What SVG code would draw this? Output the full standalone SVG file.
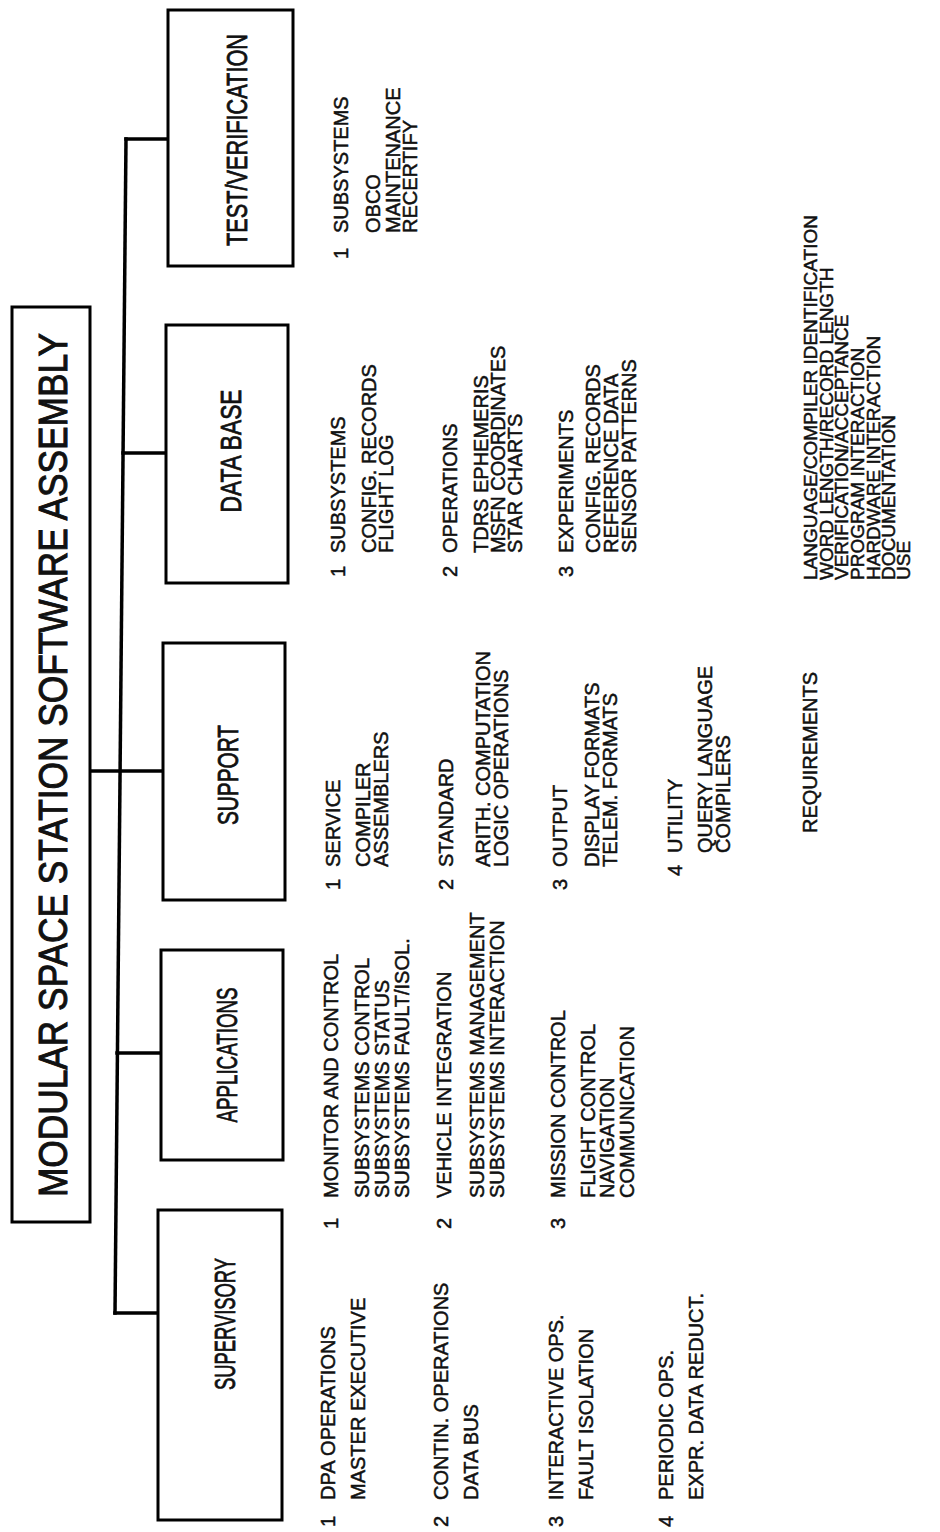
<svg xmlns="http://www.w3.org/2000/svg" width="940" height="1532" viewBox="0 0 940 1532">
<style>
.box{fill:#fff;stroke:#000;stroke-width:3}
.ln{stroke:#000;stroke-width:3.5;fill:none;stroke-linecap:square}
text{font-family:"Liberation Sans",Arial,sans-serif;fill:#111;stroke:#111;stroke-width:0.5}
.t{font-size:20px}
.r{font-size:19px}
.lbl{font-size:30px;text-anchor:middle;stroke-width:0.8}
.title{font-size:40px;text-anchor:middle;stroke-width:1}
</style>
<rect width="940" height="1532" fill="#fff"/>
<g id="connectors">
<line class="ln" x1="126" y1="139" x2="115" y2="1313"/>
<line class="ln" x1="126" y1="139" x2="168" y2="139"/>
<line class="ln" x1="123" y1="453" x2="166" y2="453"/>
<line class="ln" x1="90" y1="771" x2="163" y2="771"/>
<line class="ln" x1="117" y1="1053" x2="161" y2="1053"/>
<line class="ln" x1="115" y1="1313" x2="158" y2="1313"/>
</g>
<g id="title">
<rect class="box" x="12" y="307" width="78" height="915"/>
<text class="title" transform="rotate(-90)" x="-765" y="67" textLength="864" lengthAdjust="spacingAndGlyphs">MODULAR SPACE STATION SOFTWARE ASSEMBLY</text>
</g>
<g id="test-verification">
<rect class="box" x="168" y="10" width="125" height="256"/>
<text class="lbl" transform="rotate(-90)" x="-140" y="247" textLength="212" lengthAdjust="spacingAndGlyphs">TEST/VERIFICATION</text>
<g class="t" transform="rotate(-90)">
<text x="-259" y="348">1</text>
<text x="-233" y="348">SUBSYSTEMS</text>
<text x="-233" y="380">OBCO</text>
<text x="-233" y="400">MAINTENANCE</text>
<text x="-233" y="417">RECERTIFY</text>
</g>
</g>
<g id="data-base">
<rect class="box" x="166" y="325" width="122" height="258"/>
<text class="lbl" transform="rotate(-90)" x="-451" y="241" textLength="123" lengthAdjust="spacingAndGlyphs">DATA BASE</text>
<g class="t" transform="rotate(-90)">
<text x="-577" y="345">1</text>
<text x="-553" y="345">SUBSYSTEMS</text>
<text x="-553" y="376">CONFIG. RECORDS</text>
<text x="-553" y="393">FLIGHT LOG</text>
<text x="-577" y="457">2</text>
<text x="-553" y="457">OPERATIONS</text>
<text x="-553" y="488">TDRS EPHEMERIS</text>
<text x="-553" y="505">MSFN COORDINATES</text>
<text x="-553" y="522">STAR CHARTS</text>
<text x="-577" y="573">3</text>
<text x="-553" y="573">EXPERIMENTS</text>
<text x="-553" y="600">CONFIG. RECORDS</text>
<text x="-553" y="618">REFERENCE DATA</text>
<text x="-553" y="636">SENSOR PATTERNS</text>
</g>
</g>
<g id="support">
<rect class="box" x="163" y="643" width="122" height="257"/>
<text class="lbl" transform="rotate(-90)" x="-775" y="238" textLength="100" lengthAdjust="spacingAndGlyphs">SUPPORT</text>
<g class="t" transform="rotate(-90)">
<text x="-890" y="340">1</text>
<text x="-867" y="340">SERVICE</text>
<text x="-867" y="370">COMPILER</text>
<text x="-867" y="388">ASSEMBLERS</text>
<text x="-890" y="453">2</text>
<text x="-867" y="453">STANDARD</text>
<text x="-867" y="490">ARITH. COMPUTATION</text>
<text x="-867" y="508">LOGIC OPERATIONS</text>
<text x="-890" y="567">3</text>
<text x="-867" y="567">OUTPUT</text>
<text x="-867" y="599">DISPLAY FORMATS</text>
<text x="-867" y="617">TELEM. FORMATS</text>
<text x="-876" y="682">4</text>
<text x="-853" y="682">UTILITY</text>
<text x="-853" y="712">QUERY LANGUAGE</text>
<text x="-853" y="730">COMPILERS</text>
</g>
</g>
<g id="applications">
<rect class="box" x="161" y="950" width="122" height="210"/>
<text class="lbl" transform="rotate(-90)" x="-1055" y="237" textLength="135" lengthAdjust="spacingAndGlyphs">APPLICATIONS</text>
<g class="t" transform="rotate(-90)">
<text x="-1229" y="338">1</text>
<text x="-1198" y="338">MONITOR AND CONTROL</text>
<text x="-1198" y="369">SUBSYSTEMS CONTROL</text>
<text x="-1198" y="389">SUBSYSTEMS STATUS</text>
<text x="-1198" y="409">SUBSYSTEMS FAULT/ISOL.</text>
<text x="-1229" y="451">2</text>
<text x="-1198" y="451">VEHICLE INTEGRATION</text>
<text x="-1198" y="484">SUBSYSTEMS MANAGEMENT</text>
<text x="-1198" y="504">SUBSYSTEMS INTERACTION</text>
<text x="-1229" y="565">3</text>
<text x="-1198" y="565">MISSION CONTROL</text>
<text x="-1198" y="595">FLIGHT CONTROL</text>
<text x="-1198" y="614">NAVIGATION</text>
<text x="-1198" y="634">COMMUNICATION</text>
</g>
</g>
<g id="supervisory">
<rect class="box" x="158" y="1210" width="124" height="310"/>
<text class="lbl" transform="rotate(-90)" x="-1324" y="235" textLength="132" lengthAdjust="spacingAndGlyphs">SUPERVISORY</text>
<g class="t" transform="rotate(-90)">
<text x="-1527" y="335">1</text>
<text x="-1500" y="335">DPA OPERATIONS</text>
<text x="-1500" y="365">MASTER EXECUTIVE</text>
<text x="-1527" y="448">2</text>
<text x="-1500" y="448">CONTIN. OPERATIONS</text>
<text x="-1500" y="478">DATA BUS</text>
<text x="-1527" y="563">3</text>
<text x="-1500" y="563">INTERACTIVE OPS.</text>
<text x="-1500" y="593">FAULT ISOLATION</text>
<text x="-1527" y="673">4</text>
<text x="-1500" y="673">PERIODIC OPS.</text>
<text x="-1500" y="703">EXPR. DATA REDUCT.</text>
</g>
</g>
<g id="requirements">
<text class="t" transform="rotate(-90)" x="-833" y="817">REQUIREMENTS</text>
<g class="r" transform="rotate(-90)">
<text x="-580" y="817">LANGUAGE/COMPILER IDENTIFICATION</text>
<text x="-580" y="833">WORD LENGTH/RECORD LENGTH</text>
<text x="-580" y="848">VERIFICATION/ACCEPTANCE</text>
<text x="-580" y="864">PROGRAM INTERACTION</text>
<text x="-580" y="880">HARDWARE INTERACTION</text>
<text x="-580" y="895">DOCUMENTATION</text>
<text x="-580" y="910">USE</text>
</g>
</g>
</svg>
